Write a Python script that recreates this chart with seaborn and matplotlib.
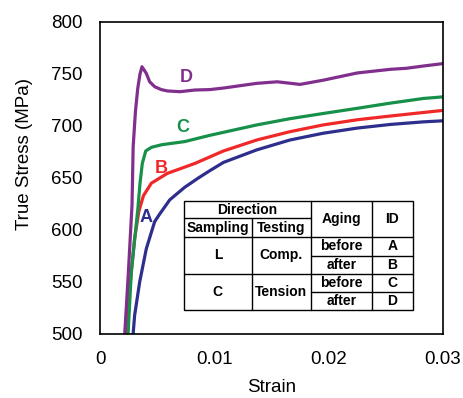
import matplotlib
matplotlib.use("Agg")
import matplotlib.pyplot as plt
from matplotlib.lines import Line2D
import seaborn as sns
import pandas as pd

# ---- data ----
strain_A = [0.00289, 0.00303, 0.00347, 0.00405, 0.00478, 0.0052, 0.0061, 0.0074, 0.0086,
            0.0096, 0.0108, 0.0137, 0.0166, 0.0195, 0.0225, 0.0254, 0.0283, 0.0300]
stress_A = [499, 518, 550, 582, 608, 615, 629, 641, 650,
            657, 665, 677, 686.5, 693, 698, 701.5, 704, 705]

strain_B = [0.00221, 0.0026, 0.00303, 0.0034, 0.0038, 0.00449, 0.0059, 0.0083, 0.0108,
            0.0137, 0.0166, 0.0195, 0.0225, 0.0254, 0.0283, 0.0300]
stress_B = [499, 544, 592, 618, 633, 645, 654.5, 664, 676,
            686.5, 694.5, 701, 706, 709.6, 713, 715]

strain_C = [0.00245, 0.00274, 0.0033, 0.0035, 0.0037, 0.0040, 0.0045, 0.0054, 0.0074,
            0.0096, 0.0137, 0.0166, 0.0195, 0.0225, 0.0254, 0.0283, 0.0300]
stress_C = [499, 560, 619, 645, 664, 676, 679.5, 682, 685,
            691, 701, 707, 712, 717, 722, 726.5, 728]

strain_D = [0.00216, 0.00249, 0.0028, 0.0029, 0.0031, 0.0033, 0.0035, 0.00367, 0.00405,
            0.00434, 0.00478, 0.00536, 0.0059, 0.0070, 0.0083, 0.0096, 0.0108, 0.0137,
            0.0155, 0.0175, 0.0195, 0.0225, 0.0254, 0.0268, 0.0283, 0.0300]
stress_D = [499, 561, 624, 680, 714, 736, 750, 757, 750.6,
            742.6, 737.8, 735, 733.7, 733, 734.6, 735, 736.5, 741,
            742.5, 740, 744, 751, 754.5, 755.5, 757.7, 760]

ids = ["A", "B", "C", "D"]
colors = ["#2E2E8C", "#F02828", "#17904A", "#80308C"]

x_ticks = [0, 0.01, 0.02, 0.03]
x_tick_labels = ["0", "0.01", "0.02", "0.03"]
y_ticks = [500, 550, 600, 650, 700, 750, 800]

table_rows = [
    ["L", "Comp.", "before", "A"],
    ["", "", "after", "B"],
    ["C", "Tension", "before", "C"],
    ["", "", "after", "D"],
]
table_head = ["Direction", "Sampling", "Testing", "Aging", "ID"]

# ---- build data frame ----
frames = []
for cid, xs, ys in zip(ids, [strain_A, strain_B, strain_C, strain_D],
                       [stress_A, stress_B, stress_C, stress_D]):
    frames.append(pd.DataFrame({"strain": xs, "stress": ys, "id": cid}))
df = pd.concat(frames, ignore_index=True)

sns.set_style("white")
plt.rcParams["font.family"] = ["Liberation Sans", "DejaVu Sans"]
plt.rcParams["text.color"] = "black"
plt.rcParams["axes.labelcolor"] = "black"
plt.rcParams["xtick.color"] = "black"
plt.rcParams["ytick.color"] = "black"

W, H = 463, 398
fig = plt.figure(figsize=(W / 100, H / 100), dpi=100)
ax = fig.add_axes([100 / W, 1 - 334 / H, 343 / W, 312 / H])

sns.lineplot(data=df, x="strain", y="stress", hue="id", palette=dict(zip(ids, colors)),
             sort=False, estimator=None, linewidth=2.3, legend=False, ax=ax)

ax.set_xlim(0, 0.03)
ax.set_ylim(500, 800)
ax.set_xticks(x_ticks)
ax.set_xticklabels(x_tick_labels)
ax.set_yticks(y_ticks)
ax.tick_params(direction="in", length=5, width=1, labelsize=13.5, pad=12.5,
               colors="black", labelcolor="black")
for s in ax.spines.values():
    s.set_color("black")
    s.set_linewidth(1.2)
ax.set_xlabel("Strain", fontsize=13.5, labelpad=8, color="black")
ax.set_ylabel("True Stress (MPa)", fontsize=13.5, color="black")
ax.yaxis.set_label_coords(-0.195, 0.578)

# curve labels
def fig_xy(px, py):
    return px / W, 1 - py / H

label_pos = {"D": (186, 78), "C": (183, 128), "B": (161, 168), "A": (146, 217)}
for cid, col in zip(ids, colors):
    px, py = label_pos[cid]
    fx, fy = fig_xy(px, py)
    fig.text(fx, fy, cid, color=col, fontsize=13, fontweight="bold", ha="center", va="center")

# ---- table ----
L, R, T, B = 184, 413, 201, 310
c1, c2, c3 = 251.7, 310.7, 371.7
r_dir, r_head, r1, r2, r3 = 218.3, 236.7, 256, 274, 292.3

bg = plt.Rectangle(fig_xy(L, B), (R - L) / W, (B - T) / H, transform=fig.transFigure,
                   facecolor="white", edgecolor="black", linewidth=1.0, zorder=5)
fig.add_artist(bg)

def hline(y, x0, x1):
    a, b = fig_xy(x0, y)
    c, d = fig_xy(x1, y)
    fig.add_artist(Line2D([a, c], [b, d], transform=fig.transFigure, color="black", lw=1.0, zorder=6))

def vline(x, y0, y1):
    a, b = fig_xy(x, y0)
    c, d = fig_xy(x, y1)
    fig.add_artist(Line2D([a, c], [b, d], transform=fig.transFigure, color="black", lw=1.0, zorder=6))

hline(r_dir, L, c2)
hline(r_head, L, R)
hline(r1, c2, R)
hline(r2, L, R)
hline(r3, c2, R)
vline(c1, r_dir, B)
vline(c2, T, B)
vline(c3, T, B)

def ttext(px, py, s):
    fx, fy = fig_xy(px, py)
    fig.text(fx, fy, s, fontsize=10, fontweight="bold", ha="center", va="center",
             color="black", zorder=7)

ttext((L + c2) / 2, (T + r_dir) / 2 + 0.5, table_head[0])
ttext((L + c1) / 2, (r_dir + r_head) / 2 + 0.5, table_head[1])
ttext((c1 + c2) / 2, (r_dir + r_head) / 2 + 0.5, table_head[2])
ttext((c2 + c3) / 2, (T + r_head) / 2, table_head[3])
ttext((c3 + R) / 2, (T + r_head) / 2, table_head[4])

row_centers = [(r_head + r1) / 2, (r1 + r2) / 2, (r2 + r3) / 2, (r3 + B) / 2]
group_centers = [(r_head + r2) / 2, (r2 + B) / 2]
for i, row in enumerate(table_rows):
    if row[0]:
        gc = group_centers[i // 2]
        ttext((L + c1) / 2, gc, row[0])
        ttext((c1 + c2) / 2, gc, row[1])
    ttext((c2 + c3) / 2, row_centers[i], row[2])
    ttext((c3 + R) / 2, row_centers[i], row[3])

fig.savefig("out.png", dpi=100)
